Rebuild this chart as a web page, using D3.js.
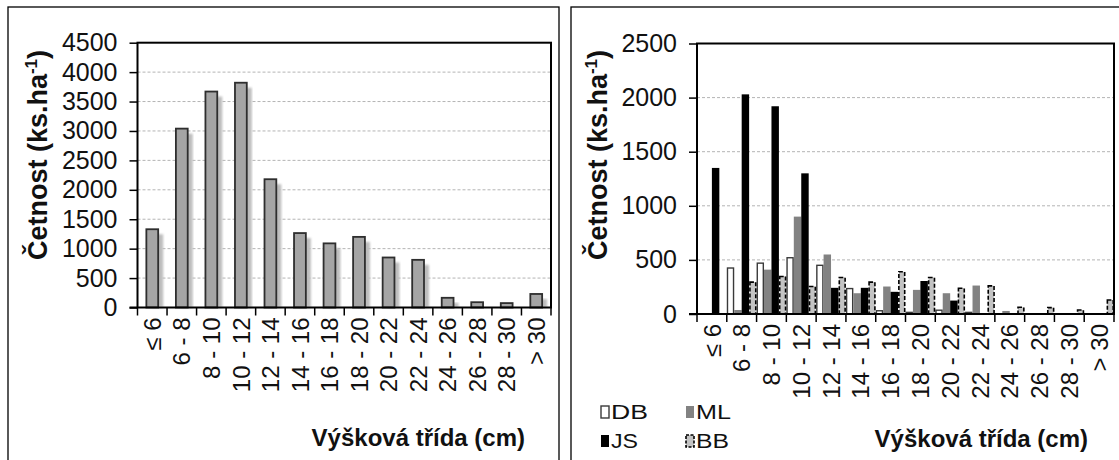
<!DOCTYPE html>
<html>
<head>
<meta charset="utf-8">
<script src="https://cdnjs.cloudflare.com/ajax/libs/d3/7.8.5/d3.min.js"></script>
<style>
  body { margin: 0; background: #fff; }
  svg { font-family: "Liberation Sans", Arial, sans-serif; }
  .grid line { stroke: #b4b4b4; stroke-width: 1; stroke-dasharray: 3,2; }
</style>
</head>
<body>
<div id="chart"></div>
<script>
var classes = ["≤ 6", "6 - 8", "8 - 10", "10 - 12", "12 - 14", "14 - 16", "16 - 18",
               "18 - 20", "20 - 22", "22 - 24", "24 - 26", "26 - 28", "28 - 30", "> 30"];

// left panel: all species together
var total = [1330, 3040, 3670, 3820, 2180, 1265, 1090, 1200, 850, 810, 165, 90, 75, 230];

// right panel: per species
var seriesNames = ["DB", "ML", "JS", "BB"];
var db = [0, 425, 470, 520, 450, 235, 30, 15, 35, 15, 0, 0, 0, 0];
var ml = [0, 37, 410, 900, 550, 192, 254, 223, 192, 263, 28, 0, 0, 0];
var js = [1350, 2030, 1920, 1300, 242, 242, 205, 305, 124, 0, 0, 0, 0, 0];
var bb = [0, 295, 347, 254, 337, 295, 390, 337, 238, 260, 62, 59, 37, 130];

var ticksLeft = [0, 500, 1000, 1500, 2000, 2500, 3000, 3500, 4000, 4500];
var ticksRight = [0, 500, 1000, 1500, 2000, 2500];

var yTitle = "Četnost  (ks.ha";
var xTitle = "Výšková  třída (cm)";

var svg = d3.select("#chart").append("svg")
  .attr("width", 1119)
  .attr("height", 460);

var defs = svg.append("defs");
defs.append("filter").attr("id", "blur")
  .append("feGaussianBlur").attr("stdDeviation", 0.8);

// panel frames (cut off at the bottom / right like the source)
svg.append("rect").attr("x", 8).attr("y", 7).attr("width", 551).attr("height", 470)
  .attr("fill", "none").attr("stroke", "#000").attr("stroke-width", 1.3);
svg.append("rect").attr("x", 571).attr("y", 7).attr("width", 560).attr("height", 470)
  .attr("fill", "none").attr("stroke", "#000").attr("stroke-width", 1.3);


function drawFrame(x, y, ticks, titleX) {
  var x0 = x.range()[0], x1 = x.range()[1];
  var y0 = y.range()[0], y1 = y.range()[1];

  var yAxis = d3.axisLeft(y).tickValues(ticks).tickSize(8).tickPadding(12)
    .tickFormat(d3.format("d"));
  var gy = svg.append("g")
    .attr("transform", `translate(${x0},0)`)
    .call(yAxis);
  gy.select(".domain").remove();
  gy.selectAll("line").attr("stroke", "#000").attr("stroke-width", 1.5);
  gy.selectAll("text").attr("font-size", 25).attr("fill", "#111");

  var xAxis = d3.axisBottom(x).tickSize(0).tickPadding(0);
  var gx = svg.append("g")
    .attr("transform", `translate(0,${y0})`)
    .call(xAxis);
  gx.select(".domain").remove();
  gx.selectAll("text")
    .attr("font-size", 24)
    .attr("fill", "#111")
    .attr("text-anchor", "end")
    .attr("transform", "rotate(-90)")
    .attr("x", -10)
    .attr("y", 0)
    .attr("dy", "0.36em");

  // ticks on the class boundaries
  var bounds = x.domain().map(d => x(d)).concat([x1]);
  svg.append("g").selectAll("line")
    .data(bounds).enter()
    .append("line")
    .attr("x1", d => d).attr("x2", d => d)
    .attr("y1", y0).attr("y2", y0 + 8)
    .attr("stroke", "#000").attr("stroke-width", 1.5);

  // plot frame
  svg.append("rect")
    .attr("x", x0).attr("y", y1)
    .attr("width", x1 - x0).attr("height", y0 - y1)
    .attr("fill", "none").attr("stroke", "#000").attr("stroke-width", 2);
  svg.append("line")
    .attr("x1", x0 - 8).attr("x2", x0)
    .attr("y1", y0).attr("y2", y0)
    .attr("stroke", "#000").attr("stroke-width", 2);

  // axis titles
  var t = svg.append("text")
    .attr("transform", `translate(${titleX},155) rotate(-90)`)
    .attr("text-anchor", "middle")
    .attr("font-size", 27)
    .attr("font-weight", "bold")
    .attr("fill", "#111");
  t.append("tspan").text(yTitle);
  t.append("tspan").attr("font-size", 17).attr("dy", -10).text("-1");
  t.append("tspan").attr("dy", 10).text(")");
}

function drawGrid(x, y, ticks) {
  svg.append("g").attr("class", "grid")
    .selectAll("line")
    .data(ticks.slice(1, -1)).enter()
    .append("line")
    .attr("x1", x.range()[0]).attr("x2", x.range()[1])
    .attr("y1", d => y(d)).attr("y2", d => y(d));
}


/* left chart */
var xL = d3.scaleBand().domain(classes).range([137.5, 551]).padding(0);
var yL = d3.scaleLinear().domain([0, 4500]).range([307.5, 42.7]);

drawGrid(xL, yL, ticksLeft);

var bwL = xL.bandwidth() * 0.4;
var barsL = svg.append("g");
barsL.selectAll(".shadow")
  .data(total).enter()
  .append("rect")
  .attr("class", "shadow")
  .attr("x", (d, i) => xL(classes[i]) + (xL.bandwidth() - bwL) / 2 + 5)
  .attr("y", d => yL(d) + 5)
  .attr("width", bwL)
  .attr("height", d => Math.max(0, yL(0) - yL(d) - 5))
  .attr("fill", "#bdbdbd")
  .attr("filter", "url(#blur)");
barsL.selectAll(".bar")
  .data(total).enter()
  .append("rect")
  .attr("class", "bar")
  .attr("x", (d, i) => xL(classes[i]) + (xL.bandwidth() - bwL) / 2)
  .attr("y", d => yL(d))
  .attr("width", bwL)
  .attr("height", d => yL(0) - yL(d))
  .attr("fill", "#a5a5a5")
  .attr("stroke", "#2e2e2e")
  .attr("stroke-width", 1.8);

drawFrame(xL, yL, ticksLeft, 47);

svg.append("text")
  .attr("x", 525).attr("y", 446)
  .attr("text-anchor", "end")
  .attr("font-size", 24).attr("font-weight", "bold").attr("fill", "#111")
  .text(xTitle);


/* right chart */
var xR = d3.scaleBand().domain(classes).range([697, 1114]).padding(0);
var xS = d3.scaleBand().domain(seriesNames).range([0, xR.bandwidth()]).padding(0);
var yR = d3.scaleLinear().domain([0, 2500]).range([314, 43.5]);

var seriesValues = { DB: db, ML: ml, JS: js, BB: bb };
var styles = {
  DB: { fill: "#fff", stroke: "#3a3a3a", dash: null, sw: 1.4 },
  ML: { fill: "#828282", stroke: "none", dash: null, sw: 0 },
  JS: { fill: "#000", stroke: "none", dash: null, sw: 0 },
  BB: { fill: "#c3c3c3", stroke: "#000", dash: "4,2", sw: 1.6 }
};

var table = [];
seriesNames.forEach(function(s) {
  seriesValues[s].forEach(function(v, i) {
    table.push({ series: s, cls: classes[i], value: v });
  });
});

drawGrid(xR, yR, ticksRight);

svg.append("g").selectAll("rect")
  .data(table.filter(d => d.value > 0)).enter()
  .append("rect")
  .attr("x", d => xR(d.cls) + xS(d.series) + styles[d.series].sw / 2)
  .attr("y", d => yR(d.value))
  .attr("width", d => xS.bandwidth() - styles[d.series].sw)
  .attr("height", d => yR(0) - yR(d.value))
  .attr("fill", d => styles[d.series].fill)
  .attr("stroke", d => styles[d.series].stroke)
  .attr("stroke-width", d => styles[d.series].sw)
  .attr("stroke-dasharray", d => styles[d.series].dash);

drawFrame(xR, yR, ticksRight, 607);

svg.append("text")
  .attr("x", 1088).attr("y", 447)
  .attr("text-anchor", "end")
  .attr("font-size", 24).attr("font-weight", "bold").attr("fill", "#111")
  .text(xTitle);

// legend, two rows of two
var legendPos = [
  { s: "DB", x: 601, y: 406, w: 37 },
  { s: "ML", x: 686, y: 406, w: 35 },
  { s: "JS", x: 601, y: 435, w: 27 },
  { s: "BB", x: 686, y: 435, w: 33 }
];
var lg = svg.append("g");
lg.selectAll("rect")
  .data(legendPos).enter()
  .append("rect")
  .attr("x", d => d.x).attr("y", d => d.y)
  .attr("width", 8).attr("height", 12)
  .attr("fill", d => styles[d.s].fill)
  .attr("stroke", d => styles[d.s].stroke === "none" ? null : styles[d.s].stroke)
  .attr("stroke-width", d => styles[d.s].sw)
  .attr("stroke-dasharray", d => styles[d.s].dash ? "3,1.5" : null);
lg.selectAll("text")
  .data(legendPos).enter()
  .append("text")
  .attr("x", d => d.x + 10).attr("y", d => d.y + 13)
  .attr("font-size", 20).attr("fill", "#111")
  .attr("textLength", d => d.w)
  .attr("lengthAdjust", "spacingAndGlyphs")
  .text(d => d.s);
</script>
</body>
</html>
